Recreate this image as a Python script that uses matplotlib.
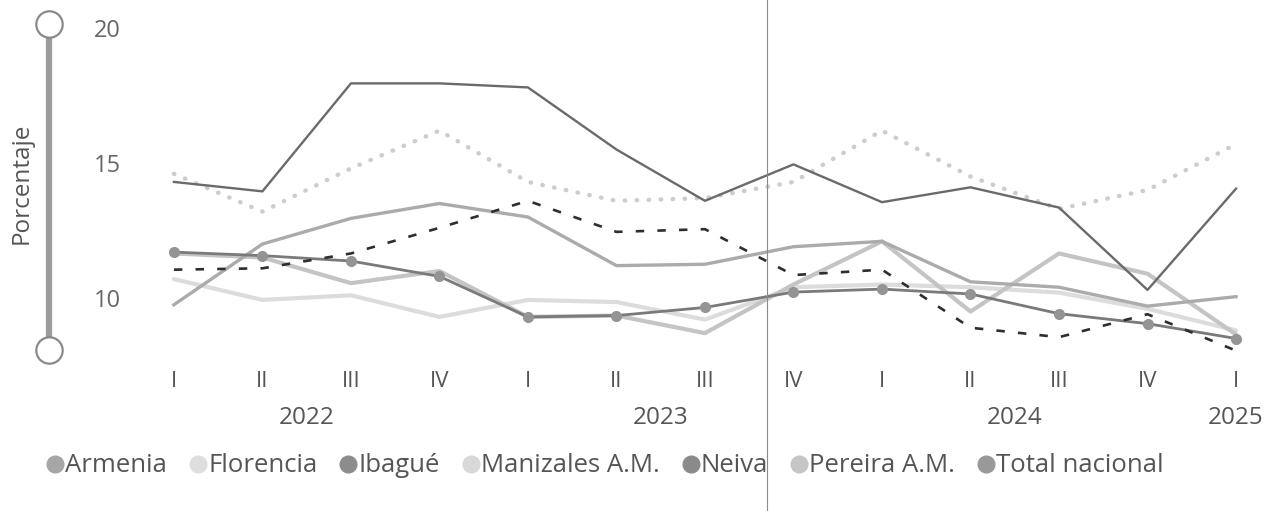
import matplotlib.pyplot as plt
from matplotlib.lines import Line2D

plt.rcParams['font.family'] = ['Open Sans', 'DejaVu Sans']

quarters = ["I", "II", "III", "IV", "I", "II", "III", "IV", "I", "II", "III", "IV", "I"]
years = ["2022", "2023", "2024", "2025"]
year_centers = [1.5, 5.5, 9.5, 12]

armenia = [9.75, 12.0, 12.95, 13.5, 13.0, 11.2, 11.25, 11.9, 12.1, 10.6, 10.4, 9.7, 10.05]
florencia = [14.6, 13.2, 14.8, 16.2, 14.3, 13.6, 13.7, 14.3, 16.2, 14.5, 13.3, 14.0, 15.7]
ibague = [14.3, 13.95, 17.95, 17.95, 17.8, 15.5, 13.6, 14.95, 13.55, 14.1, 13.35, 10.3, 14.05]
manizales = [10.7, 9.93, 10.1, 9.3, 9.93, 9.85, 9.2, 10.4, 10.5, 10.4, 10.2, 9.6, 8.8]
neiva = [11.05, 11.1, 11.65, 12.6, 13.6, 12.45, 12.55, 10.85, 11.05, 8.9, 8.55, 9.4, 8.05]
pereira = [11.65, 11.5, 10.55, 11.0, 9.3, 9.35, 8.7, 10.5, 12.1, 9.5, 11.65, 10.9, 8.65]
total = [11.7, 11.57, 11.37, 10.8, 9.3, 9.35, 9.65, 10.22, 10.33, 10.15, 9.42, 9.05, 8.5]

legend_names = ["Armenia", "Florencia", "Ibagué", "Manizales A.M.", "Neiva", "Pereira A.M.", "Total nacional"]
legend_colors = ["#a6a6a6", "#dedede", "#8c8c8c", "#d8d8d8", "#8a8a8a", "#c6c6c6", "#999999"]

W, H = 1277, 511


def fx(px):
    return px / W


def fy(py):
    return 1 - py / H


fig = plt.figure(figsize=(12.77, 5.11), dpi=100)
ax = fig.add_axes([0.1154, 0.29, 0.8733, 0.671])

x = list(range(len(quarters)))
ax.plot(x, manizales, color="#dcdcdc", lw=3.0, solid_capstyle="round")
ax.plot(x, pereira, color="#c4c4c4", lw=3.0, solid_capstyle="round")
ax.plot(x, florencia, color="#cdcdcd", lw=3.2, linestyle=(0, (0.1, 2.6)), dash_capstyle="round")
ax.plot(x, armenia, color="#ababab", lw=2.4)
ax.plot(x, total, color="#7a7a7a", lw=2.0, marker="o", markersize=7,
        markerfacecolor="#949494", markeredgecolor="#949494")
ax.plot(x, neiva, color="#2e2e2e", lw=1.9, linestyle=(0, (3.2, 5)))
ax.plot(x, ibague, color="#6a6a6a", lw=1.7)

ax.set_xlim(-0.3, 12.3)
ax.set_ylim(7.6, 20.3)
for s in ax.spines.values():
    s.set_visible(False)

ax.set_yticks([10, 15, 20])
ax.set_yticklabels(["10", "15", "20"])
ax.tick_params(axis="y", length=0, pad=19, labelsize=17, labelcolor="#666666")
ax.set_xticks(x)
ax.set_xticklabels(quarters)
ax.tick_params(axis="x", length=0, pad=6, labelsize=16, labelcolor="#555555")

for yr, xc in zip(years, year_centers):
    ax.text(xc, -0.161, yr, transform=ax.get_xaxis_transform(), ha="center", va="center",
            fontsize=17.5, color="#555555")

fig.text(fx(22), fy(183), "Porcentaje", rotation=90, ha="center", va="center",
         fontsize=17.5, color="#555555")

# slider on the left
fig.add_artist(Line2D([fx(49), fx(49)], [fy(35), fy(338)], color="#9c9c9c", lw=4.5,
                      transform=fig.transFigure))
for cy in [24, 350]:
    fig.add_artist(Line2D([fx(49)], [fy(cy)], marker="o", markersize=19, markerfacecolor="white",
                          markeredgecolor="#8a8a8a", markeredgewidth=1.6, transform=fig.transFigure))

# thin vertical rule across the page
fig.add_artist(Line2D([fx(767), fx(767)], [0, 1], color="#8a8a8a", lw=0.8, transform=fig.transFigure))

handles = [Line2D([], [], marker="o", linestyle="none", markersize=12, markerfacecolor=c,
                  markeredgecolor=c) for c in legend_colors]
fig.legend(handles, legend_names, loc="center", bbox_to_anchor=(fx(605), fy(466)), ncol=7,
           frameon=False, fontsize=18.5, handletextpad=0.05, columnspacing=0.85, handlelength=0.7,
           labelcolor="#555555")

fig.savefig("out.png", dpi=100)
